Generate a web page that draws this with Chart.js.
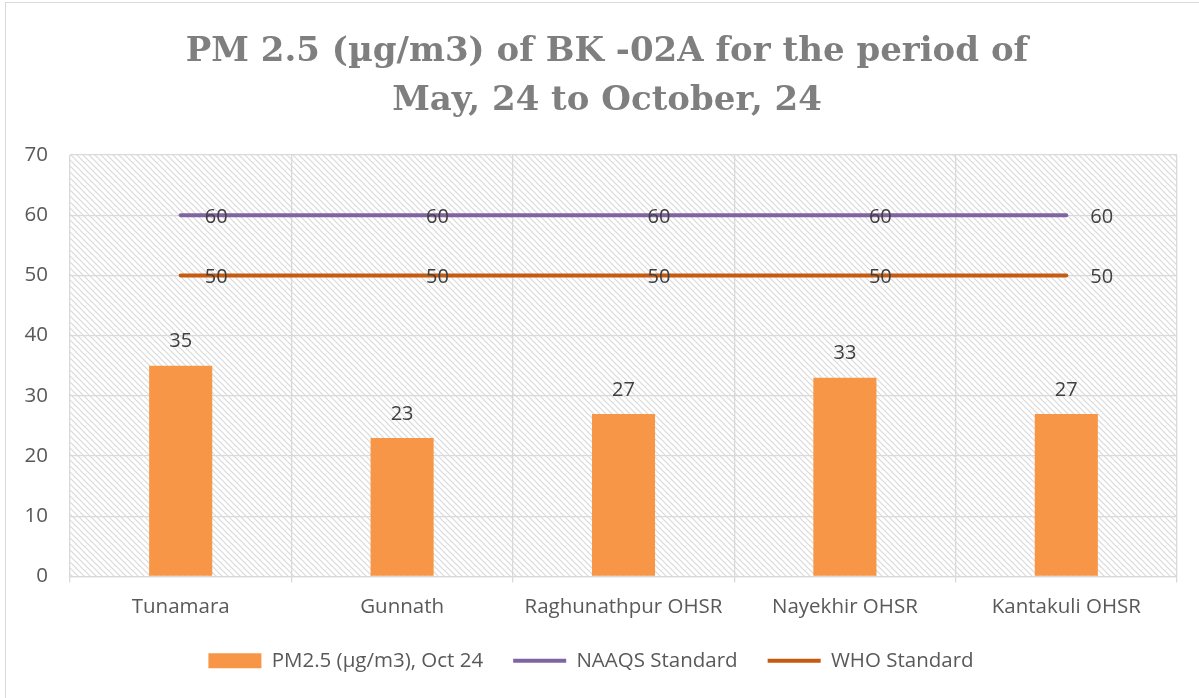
<!DOCTYPE html>
<html>
<head>
<meta charset="utf-8">
<script src="https://cdn.jsdelivr.net/npm/chart.js@4"></script>
<style>
  html, body { margin: 0; padding: 0; background: #fff; }
  #wrap { width: 1199px; height: 698px; position: relative; }
</style>
</head>
<body>
<div id="wrap"><canvas id="pmChart" width="1199" height="698"></canvas></div>
<script>
// --- data ---
const stations = ['Tunamara', 'Gunnath', 'Raghunathpur OHSR', 'Nayekhir OHSR', 'Kantakuli OHSR'];
const pm25Oct = [35, 23, 27, 33, 27];
const naaqsStd = [60, 60, 60, 60, 60];
const whoStd = [50, 50, 50, 50, 50];
const yTicks = [0, 10, 20, 30, 40, 50, 60, 70];
const titleLines = ['PM 2.5 (µg/m3) of BK -02A for the period of', 'May, 24 to October, 24'];

const labelColor = '#595959';
const valueColor = '#404040';
const bodyFont = "'Open Sans', 'Liberation Sans', sans-serif";

// diagonal hatch for plot area (Excel "downward diagonal")
function makeHatch() {
  const c = document.createElement('canvas');
  c.width = 6; c.height = 6;
  const g = c.getContext('2d');
  g.fillStyle = '#ffffff';
  g.fillRect(0, 0, 6, 6);
  g.strokeStyle = '#d9d9d9';
  g.lineWidth = 1.2;
  g.beginPath();
  g.moveTo(-1, -1); g.lineTo(7, 7);
  g.moveTo(-4, 2); g.lineTo(4, 10);
  g.moveTo(2, -4); g.lineTo(10, 4);
  g.stroke();
  return g.createPattern(c, 'repeat');
}

const backdrop = {
  id: 'backdrop',
  beforeDraw(chart) {
    const { ctx, chartArea: a } = chart;
    ctx.save();
    ctx.fillStyle = '#fff';
    ctx.fillRect(0, 0, chart.width, chart.height);
    ctx.strokeStyle = '#d9d9d9';
    ctx.lineWidth = 1;
    ctx.strokeRect(5.5, 2.5, 1300, 1300);
    ctx.fillStyle = makeHatch();
    ctx.fillRect(a.left, a.top, a.right - a.left, a.bottom - a.top);
    ctx.restore();
  }
};

// title drawn by hand so it can sit off-centre like the original
const chartTitle = {
  id: 'chartTitle',
  afterDraw(chart) {
    const { ctx } = chart;
    ctx.save();
    ctx.font = "bold 34px 'DejaVu Serif', 'Liberation Serif', serif";
    ctx.fillStyle = '#7F7F7F';
    ctx.textAlign = 'center';
    ctx.textBaseline = 'alphabetic';
    ctx.fillText(titleLines[0], 607, 61);
    ctx.fillText(titleLines[1], 607, 110);
    ctx.restore();
  }
};

// value labels (no datalabels plugin available)
const valueLabels = {
  id: 'valueLabels',
  afterDatasetsDraw(chart) {
    const { ctx } = chart;
    ctx.save();
    ctx.font = '20px ' + bodyFont;
    ctx.fillStyle = valueColor;
    chart.data.datasets.forEach((ds, i) => {
      const meta = chart.getDatasetMeta(i);
      meta.data.forEach((el, j) => {
        const v = ds.data[j];
        if (ds.type === 'bar') {
          ctx.textAlign = 'center';
          ctx.textBaseline = 'middle';
          ctx.fillText(v, el.x, el.y - 24);
        } else {
          ctx.textAlign = 'left';
          ctx.textBaseline = 'middle';
          ctx.fillText(v, el.x + 24, el.y + 2);
        }
      });
    });
    ctx.restore();
  }
};

new Chart(document.getElementById('pmChart'), {
  data: {
    labels: stations,
    datasets: [
      {
        type: 'bar',
        label: 'PM2.5 (µg/m3), Oct 24',
        data: pm25Oct,
        backgroundColor: '#F79646',
        borderWidth: 0,
        categoryPercentage: 1,
        barPercentage: 0.285
      },
      {
        type: 'line',
        label: 'NAAQS Standard',
        data: naaqsStd,
        borderColor: '#8064A2',
        backgroundColor: '#8064A2',
        borderWidth: 4,
        pointRadius: 0,
        borderCapStyle: 'round',
        tension: 0
      },
      {
        type: 'line',
        label: 'WHO Standard',
        data: whoStd,
        borderColor: '#C55A11',
        backgroundColor: '#C55A11',
        borderWidth: 4,
        pointRadius: 0,
        borderCapStyle: 'round',
        tension: 0
      }
    ]
  },
  options: {
    responsive: false,
    animation: false,
    layout: { padding: { left: 5, right: 22, top: 155, bottom: 17 } },
    scales: {
      x: {
        offset: true,
        grid: { color: '#d9d9d9', lineWidth: 1.3, offset: true, tickLength: 6, drawTicks: true },
        border: { color: '#d9d9d9', width: 1.3 },
        ticks: { color: labelColor, font: { family: bodyFont, size: 20.5 }, padding: 12, maxRotation: 0 },
        afterFit: s => { s.height = 44; }
      },
      y: {
        min: 0,
        max: 70,
        afterBuildTicks: s => { s.ticks = yTicks.map(v => ({ value: v })); },
        grid: { color: '#d9d9d9', lineWidth: 1.3, drawTicks: false },
        border: { display: false },
        ticks: { color: labelColor, font: { family: bodyFont, size: 20.5 }, padding: 22 },
        afterFit: s => { s.width = 65; }
      }
    },
    plugins: {
      title: { display: false },
      legend: {
        position: 'bottom',
        labels: {
          color: labelColor,
          font: { family: bodyFont, size: 20.5 },
          usePointStyle: true,
          pointStyleWidth: 53,
          boxHeight: 15,
          padding: 30,
          generateLabels(chart) {
            const items = Chart.defaults.plugins.legend.labels.generateLabels(chart);
            return items.map((it, i) => {
              if (i === 0) { it.pointStyle = 'rect'; it.lineWidth = 0; }
              else { it.pointStyle = 'line'; it.lineWidth = 4; }
              return it;
            });
          }
        }
      },
      tooltip: { enabled: false }
    }
  },
  plugins: [backdrop, valueLabels, chartTitle]
});
</script>
</body>
</html>
